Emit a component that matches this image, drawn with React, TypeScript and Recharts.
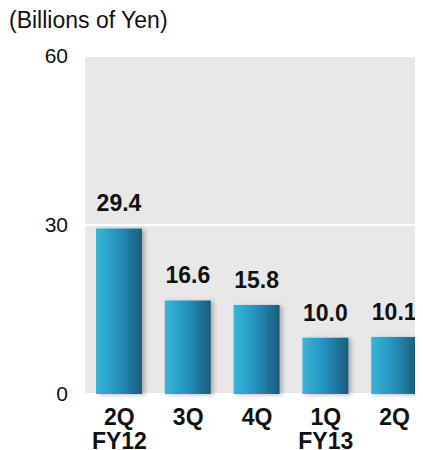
import React from 'react';
import { BarChart, Bar, XAxis, YAxis, CartesianGrid, LabelList } from 'recharts';

const quarters = ['2Q', '3Q', '4Q', '1Q', '2Q'];
const fiscalYears = ['FY12', '', '', 'FY13', ''];
const values = [29.4, 16.6, 15.8, 10.0, 10.1];
const yTicks = [0, 30, 60];

const data = quarters.map((q, i) => ({ key: `${q}-${i}`, q, fy: fiscalYears[i], value: values[i] }));

const font = 'Arial, "Liberation Sans", sans-serif';

const QuarterTick = (props: any) => {
  const { x, y, payload } = props;
  const row = data[payload.index] || data.find((d) => d.key === payload.value);
  return (
    <g transform={`translate(${x},${y})`}>
      <text x={0} y={23} textAnchor='middle' fontFamily={font} fontWeight='bold' fontSize={23} fill='#111'>
        {row ? row.q : ''}
      </text>
      {row && row.fy ? (
        <text x={0} y={47} textAnchor='middle' fontFamily={font} fontWeight='bold' fontSize={23} fill='#111'>
          {row.fy}
        </text>
      ) : null}
    </g>
  );
};

const App: React.FC = () => {
  return (
    <div style={{ position: 'relative', width: 415, height: 442, overflow: 'hidden', fontFamily: font }}>
      <div style={{ position: 'absolute', left: 1, top: -1, fontSize: 23, color: '#111', whiteSpace: 'nowrap' }}>
        (Billions of Yen)
      </div>
      <div style={{ position: 'absolute', left: 411, top: -1, fontSize: 23, color: '#111' }}>(</div>
      <BarChart
        width={440}
        height={442}
        data={data}
        margin={{ top: 48, right: 19, left: 0, bottom: 6 }}
        barSize={46}
      >
        <defs>
          <linearGradient id='barFill' x1='0' y1='0' x2='1' y2='0'>
            <stop offset='0%' stopColor='#36b7db' />
            <stop offset='50%' stopColor='#2490bb' />
            <stop offset='100%' stopColor='#1a5c7c' />
          </linearGradient>
          <filter id='barShadow' x='-20%' y='-10%' width='150%' height='120%'>
            <feDropShadow dx='3' dy='1' stdDeviation='2' floodColor='#000' floodOpacity='0.25' />
          </filter>
        </defs>
        <CartesianGrid vertical={false} fill='#e8e8e8' stroke='#ffffff' strokeWidth={2} />
        <XAxis
          dataKey='key'
          axisLine={false}
          tickLine={false}
          height={50}
          interval={0}
          tick={<QuarterTick />}
        />
        <YAxis
          width={77}
          domain={[0, 60]}
          ticks={yTicks}
          axisLine={false}
          tickLine={false}
          tickSize={0}
          tickMargin={17}
          tick={{ fontSize: 21, fill: '#111', fontFamily: font }}
        />
        <Bar dataKey='value' fill='url(#barFill)' filter='url(#barShadow)' isAnimationActive={false}>
          <LabelList
            dataKey='value'
            position='top'
            offset={17}
            formatter={(v: any) => Number(v).toFixed(1)}
            style={{ fontSize: 23, fontWeight: 'bold', fill: '#111', fontFamily: font }}
          />
        </Bar>
      </BarChart>
    </div>
  );
};

export default App;
